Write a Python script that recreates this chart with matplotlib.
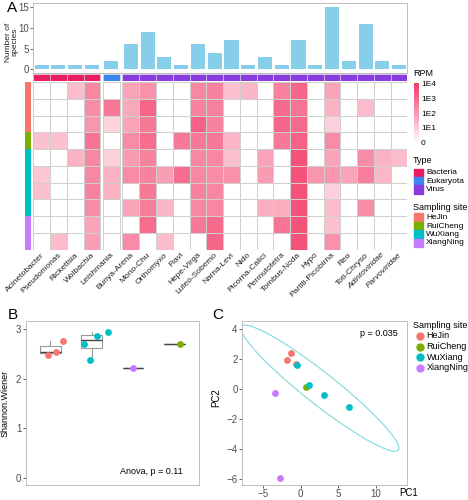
# -*- coding: utf-8 -*-
"""
Virome overview: species counts + RPM heatmap (A), Shannon diversity (B), PCA (C)
"""
import numpy as np
import matplotlib
matplotlib.use("Agg")
import matplotlib.pyplot as plt
from matplotlib.colors import LinearSegmentedColormap
from matplotlib.patches import Ellipse, Rectangle

plt.rcParams["font.family"] = ["Liberation Sans", "DejaVu Sans"]

# ── 数据 ─────────────────────────────────────────────
taxa = ["Acinetobacter", "Pseudomonas", "Rickettsia", "Wolbachia", "Leishmania",
        "Bunya-Arena", "Mono-Chu", "Orthomyxo", "Flavi", "Hepe-Virga",
        "Luteo-Sobemo", "Narna-Levi", "Nido", "Picorna-Calici", "Permutotetra",
        "Tombus-Noda", "Hypo", "Partiti-Picobirna", "Reo", "Toti-Chryso",
        "Adintoviridae", "Parvoviridae"]
taxa_type = ["Bacteria"] * 4 + ["Eukaryota"] + ["Virus"] * 17
italic_taxa = ["Adintoviridae", "Parvoviridae"]
species_count = [1, 1, 1, 1, 2, 6, 9, 3, 1, 6, 4, 7, 1, 3, 1, 7, 1, 15, 2, 11, 2, 1]

sample_site = ["HeJin"] * 3 + ["RuiCheng"] + ["WuXiang"] * 4 + ["XiangNing"] * 2

# log10(RPM) per sample (row) x taxon (column)
log_rpm = np.array([
    [0, 0, 1.4, 2.5, 0, 1.9, 2.3, 0, 0, 2.5, 2.6, 1.3, 1.5, 0, 2.6, 3.2, 0, 1.9, 0, 0, 0, 0],
    [0, 0, 0, 2.4, 2.8, 1.8, 3.2, 0, 0, 2.6, 2.6, 0, 0, 0, 3.1, 2.9, 0, 1.6, 0, 1.4, 0, 0],
    [0, 0, 0, 2.2, 0.9, 1.9, 2.8, 0, 0, 3.3, 2.6, 0, 0, 0, 3.2, 3.1, 0, 1.0, 0, 0, 0, 0],
    [1.3, 1.3, 0, 2.9, 0, 2.4, 3.0, 0, 2.8, 2.8, 2.8, 1.5, 0, 0, 2.8, 3.3, 0, 2.4, 0, 0, 0, 0],
    [0, 0, 1.6, 2.5, 1.0, 2.1, 2.6, 0, 0, 2.5, 2.5, 1.3, 0, 1.9, 0, 3.6, 0, 1.9, 0, 2.4, 1.6, 1.4],
    [1.2, 0, 0, 2.5, 1.6, 2.4, 2.6, 2.0, 3.0, 2.5, 2.4, 2.3, 0, 2.1, 0, 3.6, 2.2, 2.2, 1.9, 2.7, 1.5, 0],
    [1.3, 0, 0, 2.6, 1.6, 0, 2.8, 0, 0, 2.6, 2.5, 0, 0, 0, 0, 3.6, 0, 1.0, 0, 0, 0, 0],
    [0, 0, 0, 2.4, 0, 1.9, 2.7, 1.5, 0, 2.5, 2.5, 0, 0, 1.7, 1.7, 3.6, 0, 1.4, 0, 2.4, 0, 0],
    [0, 0, 0, 1.9, 0, 0, 3.0, 0, 0, 2.8, 3.1, 0, 0, 0, 2.9, 3.6, 0, 1.3, 0, 0, 0, 0],
    [0, 1.4, 0, 2.0, 0, 2.4, 0, 1.4, 0, 0, 3.2, 0, 0, 0, 0, 3.6, 0, 2.3, 0, 0, 0, 0],
])
rpm_ticks = [0, 1, 2, 3, 4]
rpm_labels = ["0", "1E1", "1E2", "1E3", "1E4"]

# B: Shannon-Wiener 指数
box_sites = ["HeJin", "WuXiang", "XiangNing", "RuiCheng"]
shannon = {
    "HeJin": [2.49, 2.55, 2.76],
    "WuXiang": [2.70, 2.39, 2.87, 2.95],
    "XiangNing": [2.22],
    "RuiCheng": [2.71],
}
jitter = {
    "HeJin": [-0.05, 0.14, 0.30],
    "WuXiang": [-0.19, -0.03, 0.14, 0.39],
    "XiangNing": [0.0],
    "RuiCheng": [0.14],
}

# C: PCA
pc1 = [-1.33, -1.86, -0.66, 0.70, -0.53, 1.10, 3.14, 6.42, -3.42, -2.75]
pc2 = [2.42, 1.95, 1.66, 0.17, 1.62, 0.26, -0.41, -1.21, -0.23, -5.95]

sites = ["HeJin", "RuiCheng", "WuXiang", "XiangNing"]
site_colors = {"HeJin": "#F8766D", "RuiCheng": "#7CAE00",
               "WuXiang": "#00BFC4", "XiangNing": "#C77CFF"}
types = ["Bacteria", "Eukaryota", "Virus"]
type_colors = {"Bacteria": "#EC1C63", "Eukaryota": "#3A86F0", "Virus": "#8A3BE0"}
bar_color = "#87CEEB"
frame_color = "#BDBDBD"
tick_color = "#4D4D4D"

cmap = LinearSegmentedColormap.from_list("rpm", ["#FFFFFF", "#F4406B"])

W, H = 468, 500
fig = plt.figure(figsize=(W / 100, H / 100), dpi=100)


def px_axes(x0, y0, x1, y1, **kw):
    """axes from pixel box (top-left origin)"""
    return fig.add_axes([x0 / W, 1 - y1 / H, (x1 - x0) / W, (y1 - y0) / H], **kw)


def style_frame(ax):
    for s in ax.spines.values():
        s.set_color(frame_color)
        s.set_linewidth(0.7)
    ax.tick_params(colors=tick_color, labelsize=7, length=2, width=0.6, pad=1.2)


# ── A: 列位置（按类型分组，组间留缝）──
gap = 0.16
group_id = [types.index(t) for t in taxa_type]
x_left = np.arange(len(taxa)) + gap * np.array(group_id)
x_max = len(taxa) + gap * (len(types) - 1)
n_rows = log_rpm.shape[0]

HM_X0, HM_X1 = 33.3, 407.5

# 柱状图
ax_bar = px_axes(HM_X0, 3.3, HM_X1, 72.5)
ax_bar.bar(x_left + 0.5, species_count, width=0.84, color=bar_color)
ax_bar.set_xlim(0, x_max)
ax_bar.set_ylim(-0.8, 16.0)
ax_bar.set_xticks([])
ax_bar.set_yticks([0, 5, 10, 15])
style_frame(ax_bar)
fig.text(12 / W, 1 - 42 / H, "Number of\nspecies", rotation=90,
         ha="center", va="center", fontsize=6, color="#222222", linespacing=1.0)

# 类型注释条
ax_type = px_axes(HM_X0, 74, HM_X1, 80.5)
ax_type.bar(x_left, 1, width=1, align="edge",
            color=[type_colors[t] for t in taxa_type], edgecolor="#DDDDDD", linewidth=0.4)
ax_type.set_xlim(0, x_max)
ax_type.set_ylim(0, 1)
ax_type.axis("off")

# 热图
ax_hm = px_axes(HM_X0, 82.2, HM_X1, 249.7)
for g in range(len(types)):
    cols = [i for i in range(len(taxa)) if group_id[i] == g]
    xe = np.append(x_left[cols], x_left[cols[-1]] + 1)
    ye = np.arange(n_rows + 1)
    ax_hm.pcolormesh(xe, ye, log_rpm[:, cols], cmap=cmap, vmin=0, vmax=4,
                     edgecolors="#CFCFCF", linewidth=0.5)
ax_hm.set_xlim(0, x_max)
ax_hm.set_ylim(n_rows, 0)
ax_hm.axis("off")
for i, name in enumerate(taxa):
    ax_hm.text(x_left[i] + 0.6, n_rows + 0.25, name, rotation=45, ha="right", va="center",
               rotation_mode="anchor", fontsize=6, color="#222222",
               style="italic" if name in italic_taxa else "normal")

# 样点注释条
ax_row = px_axes(25, 82.2, 31, 249.7)
ax_row.barh(np.arange(n_rows), 1, height=1, align="edge",
            color=[site_colors[s] for s in sample_site])
ax_row.set_ylim(n_rows, 0)
ax_row.set_xlim(0, 1)
ax_row.axis("off")

# ── 图例（像素坐标）──
ax_leg = px_axes(0, 0, W, H)
ax_leg.set_xlim(0, W)
ax_leg.set_ylim(H, 0)
ax_leg.axis("off")
ax_leg.patch.set_alpha(0)

ax_leg.text(413, 74, "RPM", fontsize=6.5, va="center", ha="left")
cb_top, cb_bot = 83, 146
grad = np.linspace(4.15, -0.15, 100).reshape(-1, 1)
ax_leg.imshow(grad, cmap=cmap, vmin=0, vmax=4, aspect="auto",
              extent=(414, 418.5, cb_bot, cb_top))
for v, lab in zip(rpm_ticks, rpm_labels):
    y = 143.3 - v * 14.6
    ax_leg.text(421, y, lab, fontsize=6, va="center", ha="left")

ax_leg.text(413, 160.7, "Type", fontsize=6.5, va="center", ha="left")
for k, t in enumerate(types):
    yc = 172.8 + k * 8.4
    ax_leg.add_patch(Rectangle((414, yc - 4.2), 8.5, 8.4, color=type_colors[t]))
    ax_leg.text(426, yc, t, fontsize=6, va="center", ha="left")

ax_leg.text(413, 207.3, "Sampling site", fontsize=6.5, va="center", ha="left")
for k, s in enumerate(sites):
    yc = 217.5 + k * 8.5
    ax_leg.add_patch(Rectangle((414, yc - 4.25), 8.5, 8.5, color=site_colors[s]))
    ax_leg.text(426, yc, s, fontsize=6, va="center", ha="left")

ax_leg.text(413, 325, "Sampling site", fontsize=6.5, va="center", ha="left")
for k, s in enumerate(sites):
    yc = 336 + k * 10.6
    ax_leg.plot([419.5], [yc], "o", color=site_colors[s], markersize=5)
    ax_leg.text(426.5, yc, s, fontsize=6.5, va="center", ha="left")

fig.text(12 / W, 1 - 8 / H, "A", fontsize=11, ha="center", va="center")
fig.text(13 / W, 1 - 315 / H, "B", fontsize=11, ha="center", va="center")
fig.text(218 / W, 1 - 315 / H, "C", fontsize=11, ha="center", va="center")

# ── B: 箱线图 ──
ax_b = px_axes(25.7, 321, 199, 485)
pos = np.arange(1, len(box_sites) + 1)
ax_b.boxplot([shannon[s] for s in box_sites], positions=pos, widths=0.5,
             showfliers=False, showcaps=False,
             boxprops=dict(color="#9A9A9A", linewidth=0.8),
             whiskerprops=dict(color="#9A9A9A", linewidth=0.8),
             medianprops=dict(color="#444444", linewidth=1.0))
for p, s in zip(pos, box_sites):
    ax_b.scatter(p + np.array(jitter[s]), shannon[s], s=24, color=site_colors[s],
                 zorder=3, linewidths=0)
ax_b.set_xlim(0.4, 4.6)
ax_b.set_ylim(-0.15, 3.17)
ax_b.set_xticks([])
ax_b.set_yticks([0, 1, 2, 3])
style_frame(ax_b)
ax_b.text(0.906, 0.081, "Anova, p = 0.11", transform=ax_b.transAxes,
          ha="right", va="center", fontsize=6.5)
fig.text(5 / W, 1 - 403 / H, "Shannon.Wiener", rotation=90,
         ha="center", va="center", fontsize=6.5)

# ── C: PCA ──
ax_c = px_axes(242, 321, 407, 485)
for s in sites:
    idx = [i for i, v in enumerate(sample_site) if v == s]
    ax_c.scatter([pc1[i] for i in idx], [pc2[i] for i in idx], s=24,
                 color=site_colors[s], zorder=3, linewidths=0)
# WuXiang 置信椭圆
idx = [i for i, v in enumerate(sample_site) if v == "WuXiang"]
pts = np.array([[pc1[i], pc2[i]] for i in idx])
cov = np.cov(pts.T)
vals, vecs = np.linalg.eigh(cov)
angle = np.degrees(np.arctan2(vecs[1, 1], vecs[0, 1]))
r = 3.5
ax_c.add_patch(Ellipse(pts.mean(axis=0), 2 * r * np.sqrt(vals[1]), 2.15 * r * np.sqrt(vals[0]),
                       angle=angle, fill=False, edgecolor="#7FD9DC", linewidth=0.8))
ax_c.set_xlim(-7.8, 14.1)
ax_c.set_ylim(-6.4, 4.55)
ax_c.set_xticks([-5, 0, 5, 10])
ax_c.set_yticks([-6, -4, -2, 0, 2, 4])
style_frame(ax_c)
ax_c.text(0.945, 0.925, "p = 0.035", transform=ax_c.transAxes,
          ha="right", va="center", fontsize=6.5)
fig.text(409 / W, 1 - 493 / H, "PC1", ha="center", va="center", fontsize=7)
fig.text(216.7 / W, 1 - 398 / H, "PC2", rotation=90, ha="center", va="center", fontsize=7)

fig.savefig("out.png", dpi=100)
plt.close(fig)
